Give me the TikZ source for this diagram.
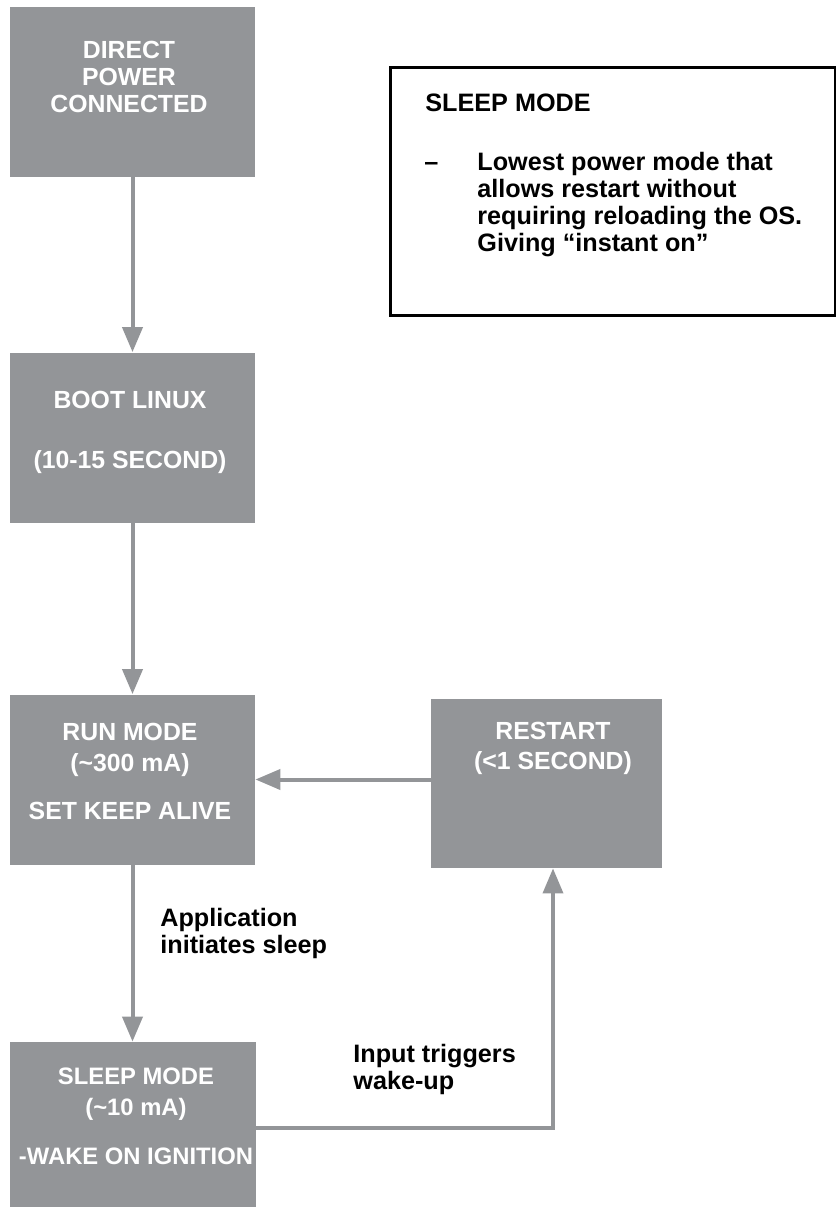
\documentclass[tikz,border=0pt]{standalone}
\usepackage{fontspec}
\setmainfont{Liberation Sans}
\usepackage{xcolor}
\usetikzlibrary{arrows.meta,positioning}
\definecolor{boxgray}{RGB}{147,149,152}

\begin{document}
\begin{tikzpicture}[x=0.5pt,y=-0.5pt,
  stage/.style={fill=boxgray,minimum width=122.5pt,minimum height=85pt,inner sep=0pt},
  stagetxt/.style={text=white,font=\fontsize{12.4}{13.5}\selectfont\bfseries,align=center,inner sep=0pt,anchor=north},
  flow/.style={draw=boxgray,line width=2pt,-{Triangle[length=12.5pt,width=10pt]}},
  note/.style={font=\fontsize{12.6}{13.5}\selectfont\bfseries,inner sep=0pt,align=left}]
\useasboundingbox (0,0) rectangle (836,1207);
\node (power) at (132.5,92) [stage]{};
\node (boot) at (132.5,437.5) [stage]{};
\node (run) at (132.5,779.5) [stage]{};
\node (restart) at (546.5,783.5) [stage,minimum width=115.5pt,minimum height=84.5pt]{};
\node (sleep) at (132.5,1127) [stage,minimum width=123pt]{};
\node (powertxt) at (129,41) [stagetxt]{DIRECT\\POWER\\CONNECTED};
\node (boottxt) at (130,391) [stagetxt]{BOOT LINUX\\[16.5pt](10-15 SECOND)};
\node (runtxt) at (130,723) [stagetxt]{RUN MODE\\[2pt](\textasciitilde300 mA)\\[10.5pt]SET KEEP ALIVE};
\node (restarttxt) at (553,722) [stagetxt]{RESTART\\[1.5pt](<1 SECOND)};
\node (sleeptxt) at (136,1067) [stagetxt,font=\fontsize{11.9}{13.5}\selectfont\bfseries]{SLEEP MODE\\[2pt](\textasciitilde10 mA)\\[11pt]-WAKE ON IGNITION};

\node (info) at (613,191) [draw,line width=1.5pt,minimum width=222.5pt,minimum height=124pt]{};
\node (infotitle) at (425,103) [note,anchor=west]{SLEEP MODE};
\node (infodash) at (424,170) [note,anchor=base west]{--};
\node (infotxt) at (477,152) [note,anchor=north west]{Lowest power mode that\\allows restart without\\requiring reloading the OS.\\Giving “instant on”};

\node (sleeplbl) at (160,908) [note,anchor=north west]{Application\\initiates sleep};
\node (wakelbl) at (353,1044) [note,anchor=north west]{Input triggers\\wake-up};

\foreach \a/\b in {power/boot,boot/run,run/sleep}{ \draw[flow] (\a) -- (\b); }
\draw[flow] (restart.west |- run) -- (run.east);
\coordinate (turn) at (553,1128);
\draw[flow,line width=1.8pt] (sleep.east |- turn) -- (turn) -- (turn |- restart.south);
\end{tikzpicture}
\end{document}
